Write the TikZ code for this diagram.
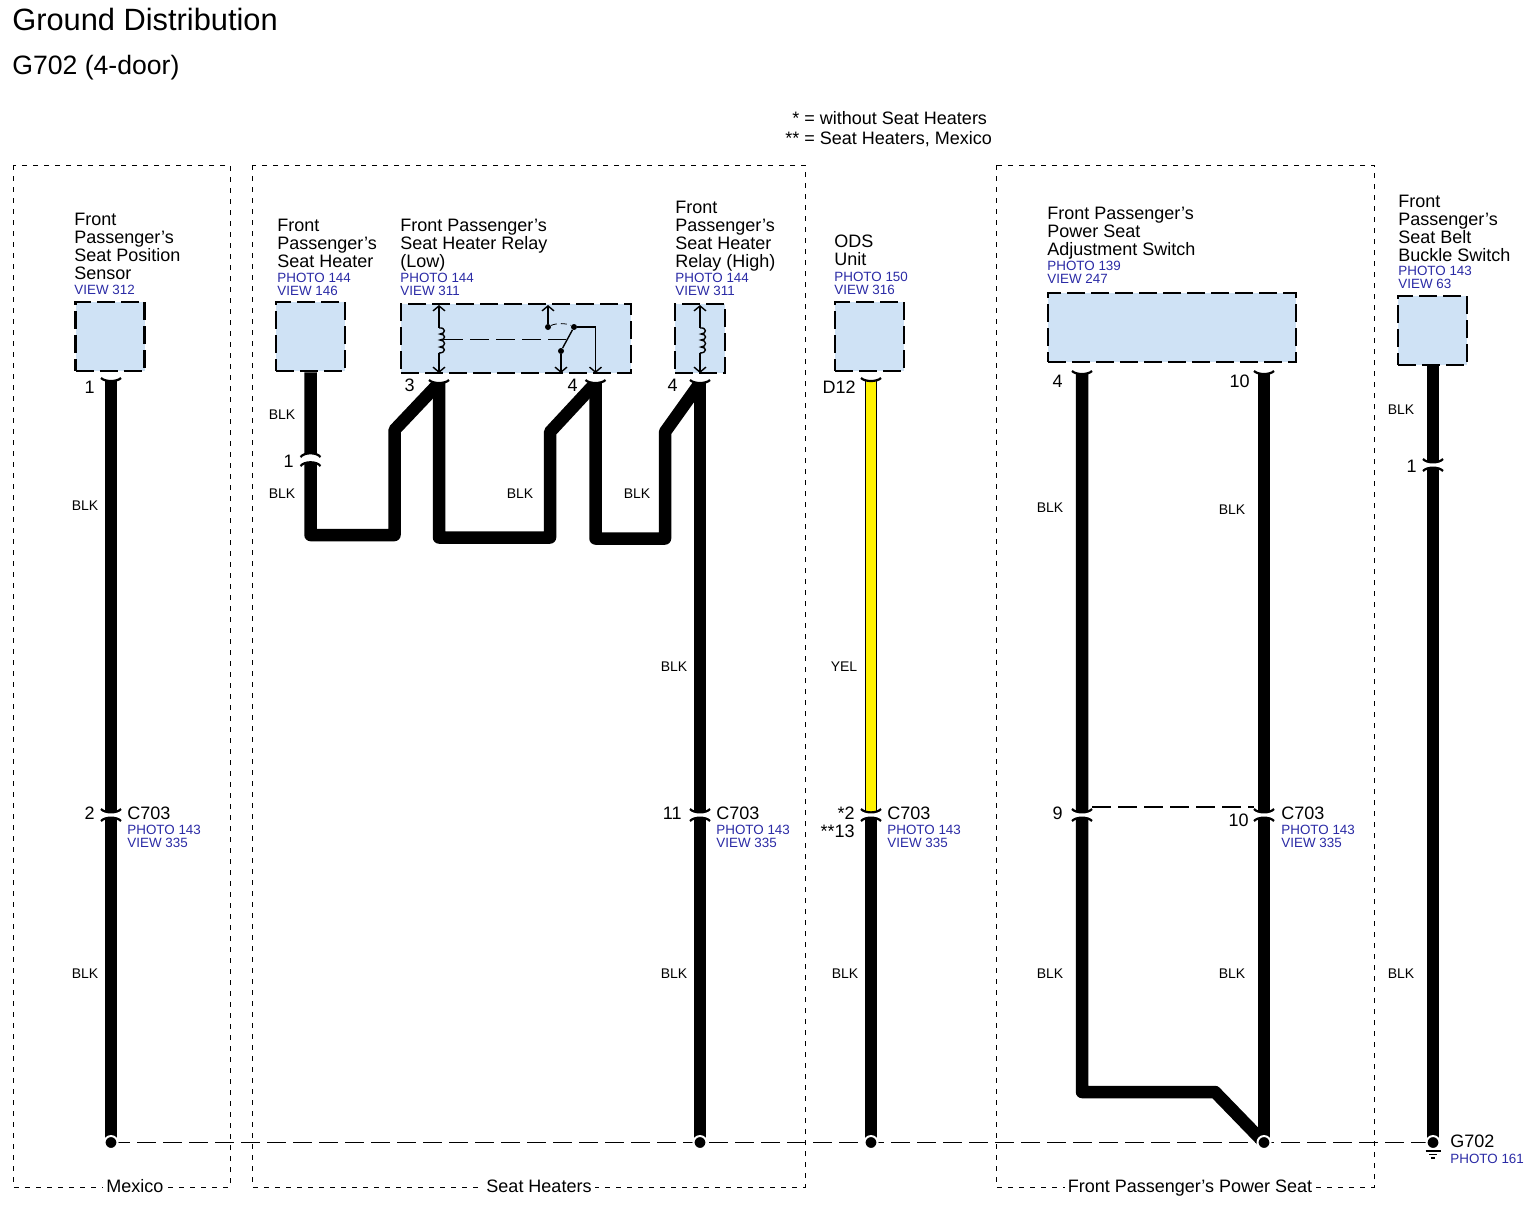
\documentclass[tikz,border=0pt]{standalone}
\usepackage{fontspec}
\setmainfont{Liberation Sans}
\usepackage{tikz}
\usetikzlibrary{arrows.meta}
\definecolor{boxblue}{HTML}{CFE2F5}
\definecolor{refblue}{HTML}{2A2AA5}
\tikzset{
    x=0.5pt, y=-0.5pt,
    >={Straight Barb[length=2.5pt, width=6pt]},
    compbox/.style={draw=black, fill=boxblue, line width=1.3pt, dash pattern=on 9pt off 3pt, inner sep=0pt},
    groupframe/.style={draw=black, line width=0.4pt, dash pattern=on 2.5pt off 3pt},
    grouplabel/.style={fill=white, font=\fontsize{9}{9}\selectfont, inner sep=1.5pt, text height=6.5pt, text depth=2pt},
    compname/.style={anchor=north west, align=left, inner sep=0pt, font=\fontsize{9}{9}\selectfont},
    viewtext/.style={anchor=north west, align=left, inner sep=0pt, text=refblue, font=\fontsize{6.7}{6.5}\selectfont},
    wirecolor/.style={anchor=center, inner sep=0pt, font=\fontsize{7}{7}\selectfont},
    pinnum/.style={anchor=east, inner sep=0pt, font=\fontsize{9}{9}\selectfont},
    connname/.style={anchor=west, inner sep=0pt, font=\fontsize{9}{9}\selectfont},
    wire/.style={line width=6.25pt, line join=round},
    yelwire/.style={line width=0.7pt, double=yellow, double distance=5pt},
    inner line/.style={line width=0.7pt},
    jump/.style={draw=black, line width=0.8pt, dash pattern=on 9.5pt off 3.5pt},
    splice/.style={circle, fill=black, draw=white, line width=1pt, minimum size=6.5pt, inner sep=0pt},
    contact/.style={circle, fill=black, inner sep=0pt, minimum size=3pt},
    % wire end with its flared rim
    wirecap/.pic={
        \fill[white] (-10,-3) .. controls (-6,1) and (6,1) .. (10,-3) -- (16,-3) -- (16,-8) -- (-16,-8) -- (-16,-3) -- cycle;
        \draw[line width=1.1pt] (-10,-3) .. controls (-6,1) and (6,1) .. (10,-3);
    },
    % split in a wire
    wiresplit/.pic={
        \fill[white] (-10,-6) .. controls (-6,-1.5) and (6,-1.5) .. (10,-6) -- (10,6)
            .. controls (6,1.5) and (-6,1.5) .. (-10,6) -- cycle;
        \draw[line width=1.1pt] (-10,-6) .. controls (-6,-1.5) and (6,-1.5) .. (10,-6);
        \draw[line width=1.1pt] (-10,6) .. controls (-6,1.5) and (6,1.5) .. (10,6);
    },
    % same split, both rims bent the same way
    wiresplitup/.pic={
        \fill[white] (-10,-3) .. controls (-6,-8) and (6,-8) .. (10,-3) -- (10,6)
            .. controls (6,1) and (-6,1) .. (-10,6) -- cycle;
        \draw[line width=1.1pt] (-10,-3) .. controls (-6,-8) and (6,-8) .. (10,-3);
        \draw[line width=1.1pt] (-10,6) .. controls (-6,1) and (6,1) .. (10,6);
    },
    relaycoil/.pic={
        \draw[inner line] (0,0) .. controls (7,-1) and (7,6) .. (1,6)
            .. controls (7,6) and (7,12) .. (1,12)
            .. controls (7,12) and (7,19) .. (1,19)
            .. controls (7,19) and (7,25) .. (0,25);
    },
}

\begin{document}
\begin{tikzpicture}
    \useasboundingbox (0,0) rectangle (1535,1206);
    % headings
    \node[anchor=west, inner sep=0pt, font=\fontsize{15.4}{15.4}\selectfont] (title) at (12,19) {Ground Distribution};
    \node[anchor=west, inner sep=0pt, font=\fontsize{13.3}{13.3}\selectfont] (subtitle) at (12,68) {G702 (4-door)};
    \node[connname] (note_one) at (792,118) {* = without Seat Heaters};
    \node[connname] (note_two) at (785,139) {** = Seat Heaters, Mexico};
    % group frames
    \draw[groupframe] (13,165) rectangle (230,1187);
    \draw[groupframe] (252,165) rectangle (805,1187);
    \draw[groupframe] (996,165) rectangle (1374,1187);
    \node[grouplabel] (group_mexico) at (135,1188) {Mexico};
    \node[grouplabel] (group_heaters) at (539,1188) {Seat Heaters};
    \node[grouplabel] (group_power) at (1190,1188) {Front Passenger's Power Seat};
    % components
    \node[compbox, minimum width=34.5pt, minimum height=34.5pt] (sensor) at (110,336.5) {};
    \node[compbox, minimum width=34.5pt, minimum height=34.5pt] (heater) at (310.5,336.5) {};
    \node[compbox, minimum width=115pt, minimum height=34.5pt] (relay_low) at (516,338.5) {};
    \node[compbox, minimum width=25pt, minimum height=34.5pt] (relay_high) at (700,338.5) {};
    \node[compbox, minimum width=34.5pt, minimum height=34.5pt] (ods) at (869.5,336.5) {};
    \node[compbox, minimum width=124pt, minimum height=34.5pt] (switch) at (1172,327.5) {};
    \node[compbox, minimum width=34.5pt, minimum height=34.5pt] (buckle) at (1432.5,330.5) {};
    % component names
    \node[compname] (sensor_name) at (74,212.5) {Front\\Passenger's\\Seat Position\\Sensor};
    \node[viewtext] (sensor_view) at (74,285) {VIEW 312};
    \node[compname] (heater_name) at (277,218.5) {Front\\Passenger's\\Seat Heater};
    \node[viewtext] (heater_view) at (277,273) {PHOTO 144\\VIEW 146};
    \node[compname] (low_name) at (400,218.5) {Front Passenger's\\Seat Heater Relay\\(Low)};
    \node[viewtext] (low_view) at (400,273) {PHOTO 144\\VIEW 311};
    \node[compname] (high_name) at (675,201) {Front\\Passenger's\\Seat Heater\\Relay (High)};
    \node[viewtext] (high_view) at (675,273) {PHOTO 144\\VIEW 311};
    \node[compname] (ods_name) at (834,235) {ODS\\Unit};
    \node[viewtext] (ods_view) at (834,272) {PHOTO 150\\VIEW 316};
    \node[compname] (switch_name) at (1047,207) {Front Passenger's\\Power Seat\\Adjustment Switch};
    \node[viewtext] (switch_view) at (1047,261) {PHOTO 139\\VIEW 247};
    \node[compname] (buckle_name) at (1398,194.5) {Front\\Passenger's\\Seat Belt\\Buckle Switch};
    \node[viewtext] (buckle_view) at (1398,266) {PHOTO 143\\VIEW 63};
    % relay insides
    \coordinate (low_coil_top) at (439,305);
    \coordinate (low_coil_in) at (439,328);
    \coordinate (low_coil_out) at (439,353);
    \coordinate (low_coil_bot) at (439,373);
    \draw[inner line, <-] (low_coil_top) -- (low_coil_in);
    \draw[inner line, ->] (low_coil_out) -- (low_coil_bot);
    \pic at (low_coil_in) {relaycoil};
    \coordinate (low_link_in) at (444,339.5);
    \coordinate (low_link_out) at (566,339.5);
    \draw[jump, line width=0.5pt] (low_link_in) -- (low_link_out);
    \node[contact] (contact_open) at (548,327) {};
    \node[contact] (contact_closed) at (574,327) {};
    \node[contact] (contact_arm) at (561,351) {};
    \coordinate (open_top) at (548,305);
    \coordinate (closed_turn) at (595.5,327);
    \coordinate (closed_bot) at (595.5,373);
    \coordinate (arm_bot) at (561,373);
    \draw[inner line, ->] (contact_open) -- (open_top);
    \draw[inner line, ->] (contact_closed) -- (closed_turn) -- (closed_bot);
    \draw[inner line, ->] (contact_arm) -- (arm_bot);
    \draw[inner line] (contact_arm) -- (contact_closed);
    \draw[line width=0.4pt, densely dashed] (contact_open) .. controls (556,323) and (566,323) .. (contact_closed);
    \coordinate (high_coil_top) at (700,305);
    \coordinate (high_coil_in) at (700,328);
    \coordinate (high_coil_out) at (700,353);
    \coordinate (high_coil_bot) at (700,373);
    \draw[inner line, <-] (high_coil_top) -- (high_coil_in);
    \draw[inner line, ->] (high_coil_out) -- (high_coil_bot);
    \pic at (high_coil_in) {relaycoil};
    % ground bus
    \coordinate (bus_sensor) at (111,1142.5);
    \coordinate (bus_high) at (700,1142.5);
    \coordinate (bus_ods) at (871,1142.5);
    \coordinate (bus_switch) at (1264,1142.5);
    \coordinate (bus_ground) at (1433,1142.5);
    \draw[jump] (bus_sensor) -- (bus_ground);
    % wires, top to bottom
    \coordinate (sensor_pin) at (111,381);
    \coordinate (sensor_split) at (111,815);
    \draw[wire] (sensor_pin) -- (bus_sensor);
    \coordinate (heater_split) at (310.5,460);
    \coordinate (heater_low) at (310.5,535);
    \coordinate (heater_rise) at (394.5,535);
    \coordinate (heater_bend) at (394.5,430);
    \coordinate (low_in_pin) at (439,383);
    \coordinate (low_in_foot) at (439,537.5);
    \coordinate (low_in_rise) at (550,537.5);
    \coordinate (low_in_bend) at (550,432);
    \coordinate (low_out_pin) at (595.5,383);
    \coordinate (low_out_foot) at (595.5,538.5);
    \coordinate (low_out_rise) at (665,538.5);
    \coordinate (low_out_bend) at (665,432);
    \coordinate (high_pin) at (700,383);
    \coordinate (high_split) at (700,815);
    \draw[wire] (heater.south) -- (heater_low) -- (heater_rise) -- (heater_bend) -- (low_in_pin);
    \draw[wire] (low_in_pin) -- (low_in_foot) -- (low_in_rise) -- (low_in_bend) -- (low_out_pin);
    \draw[wire] (low_out_pin) -- (low_out_foot) -- (low_out_rise) -- (low_out_bend) -- (high_pin);
    \draw[wire] (high_pin) -- (bus_high);
    \coordinate (ods_pin) at (871,381);
    \coordinate (ods_split) at (871,815);
    \draw[yelwire] (ods_pin) -- (ods_split);
    \draw[wire] (ods_split) -- (bus_ods);
    \coordinate (switch_left_pin) at (1082,374);
    \coordinate (switch_left_split) at (1082,815);
    \coordinate (switch_left_foot) at (1082,1092);
    \coordinate (switch_left_bend) at (1215,1092);
    \coordinate (switch_right_pin) at (1264,374);
    \coordinate (switch_right_split) at (1264,815);
    \draw[wire] (switch_left_pin) -- (switch_left_foot) -- (switch_left_bend) -- (bus_switch);
    \draw[wire] (switch_right_pin) -- (bus_switch);
    \coordinate (switch_jump_left) at (1092,807);
    \coordinate (switch_jump_right) at (1254,807);
    \draw[jump] (switch_jump_left) -- (switch_jump_right);
    \coordinate (buckle_pin) at (1433,365);
    \coordinate (buckle_split) at (1433,465);
    \draw[wire] (buckle_pin) -- (bus_ground);
    % wire ends and splits
    \pic at (sensor_pin) {wirecap};
    \pic at (low_in_pin) {wirecap};
    \pic at (low_out_pin) {wirecap};
    \pic at (high_pin) {wirecap};
    \pic at (ods_pin) {wirecap};
    \pic at (switch_left_pin) {wirecap};
    \pic at (switch_right_pin) {wirecap};
    \pic at (sensor_split) {wiresplit};
    \pic at (high_split) {wiresplit};
    \pic at (ods_split) {wiresplit};
    \pic at (switch_left_split) {wiresplit};
    \pic at (switch_right_split) {wiresplit};
    \pic at (buckle_split) {wiresplit};
    \pic at (heater_split) {wiresplitup};
    % splices
    \node[splice] (splice_sensor) at (bus_sensor) {};
    \node[splice] (splice_high) at (bus_high) {};
    \node[splice] (splice_ods) at (bus_ods) {};
    \node[splice] (splice_switch) at (bus_switch) {};
    \node[splice] (splice_ground) at (bus_ground) {};
    % ground symbol
    \coordinate (earth_a_l) at (1425.5,1151);
    \coordinate (earth_a_r) at (1440.5,1151);
    \coordinate (earth_b_l) at (1429,1154.5);
    \coordinate (earth_b_r) at (1437,1154.5);
    \coordinate (earth_c_l) at (1431,1158);
    \coordinate (earth_c_r) at (1435,1158);
    \draw[inner line] (earth_a_l) -- (earth_a_r);
    \draw[inner line] (earth_b_l) -- (earth_b_r);
    \draw[inner line] (earth_c_l) -- (earth_c_r);
    % pin numbers
    \node[pinnum] (pin_sensor) at (95,387) {1};
    \node[pinnum] (pin_sensor_c) at (95,813) {2};
    \node[pinnum] (pin_heater) at (294,461) {1};
    \node[pinnum] (pin_low_in) at (415,385) {3};
    \node[pinnum] (pin_low_out) at (578,385) {4};
    \node[pinnum] (pin_high) at (678,385) {4};
    \node[pinnum] (pin_high_c) at (682,813) {11};
    \node[pinnum] (pin_ods) at (856,387) {D12};
    \node[pinnum] (pin_ods_c) at (855,813) {*2};
    \node[pinnum] (pin_ods_m) at (855,831) {**13};
    \node[pinnum] (pin_left) at (1063,381) {4};
    \node[pinnum] (pin_right) at (1250,381) {10};
    \node[pinnum] (pin_left_c) at (1063,813) {9};
    \node[pinnum] (pin_right_c) at (1249,820) {10};
    \node[pinnum] (pin_buckle) at (1417,466) {1};
    % connector names
    \node[connname] (c703_a) at (127,813) {C703};
    \node[viewtext] (c703_a_view) at (127,825) {PHOTO 143\\VIEW 335};
    \node[connname] (c703_b) at (716,813) {C703};
    \node[viewtext] (c703_b_view) at (716,825) {PHOTO 143\\VIEW 335};
    \node[connname] (c703_c) at (887,813) {C703};
    \node[viewtext] (c703_c_view) at (887,825) {PHOTO 143\\VIEW 335};
    \node[connname] (c703_d) at (1281,813) {C703};
    \node[viewtext] (c703_d_view) at (1281,825) {PHOTO 143\\VIEW 335};
    \node[connname] (g702) at (1450,1141) {G702};
    \node[viewtext] (g702_view) at (1450,1154) {PHOTO 161};
    % wire colours
    \node[wirecolor] (col_a) at (85,506) {BLK};
    \node[wirecolor] (col_b) at (85,974) {BLK};
    \node[wirecolor] (col_c) at (282,415) {BLK};
    \node[wirecolor] (col_d) at (282,494) {BLK};
    \node[wirecolor] (col_e) at (520,494) {BLK};
    \node[wirecolor] (col_f) at (637,494) {BLK};
    \node[wirecolor] (col_g) at (674,667) {BLK};
    \node[wirecolor] (col_h) at (674,974) {BLK};
    \node[wirecolor] (col_i) at (844,667) {YEL};
    \node[wirecolor] (col_j) at (845,974) {BLK};
    \node[wirecolor] (col_k) at (1050,508) {BLK};
    \node[wirecolor] (col_l) at (1232,510) {BLK};
    \node[wirecolor] (col_m) at (1050,974) {BLK};
    \node[wirecolor] (col_n) at (1232,974) {BLK};
    \node[wirecolor] (col_o) at (1401,410) {BLK};
    \node[wirecolor] (col_p) at (1401,974) {BLK};
\end{tikzpicture}
\end{document}
